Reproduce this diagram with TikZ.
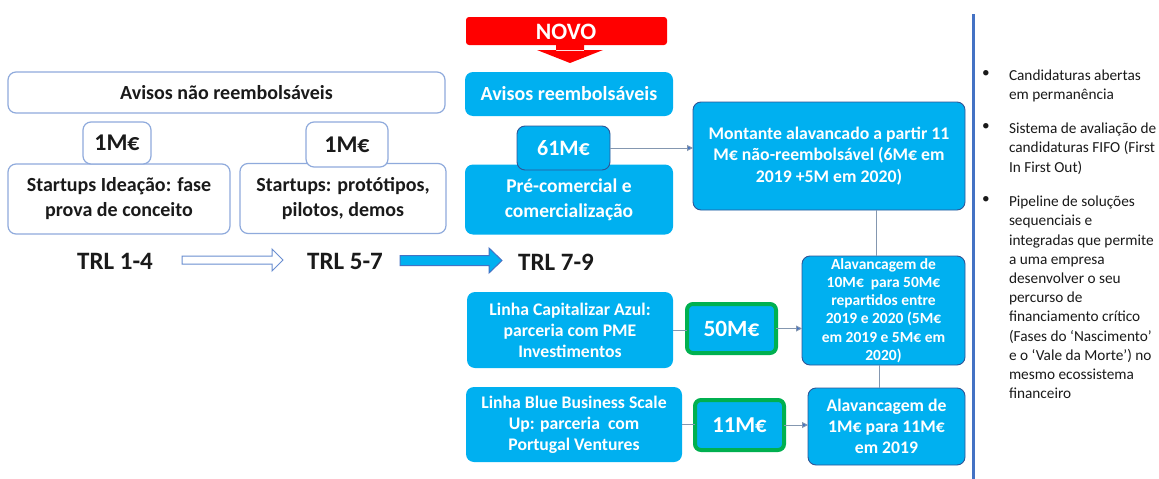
\documentclass[tikz,border=0pt]{standalone}
\usepackage{fontspec}
\setmainfont{Carlito}
\usetikzlibrary{arrows.meta}
\definecolor{cy}{HTML}{00B0F0}
\definecolor{dkb}{HTML}{2F5597}
\definecolor{lb}{HTML}{8FAADC}
\definecolor{grn}{HTML}{00B050}
\definecolor{conc}{HTML}{8497B0}
\definecolor{divc}{HTML}{4472C4}
\definecolor{txt}{HTML}{1A1A1A}
\begin{document}
\begin{tikzpicture}[x=1pt,y=-1pt,
  every node/.style={inner sep=0pt, outer sep=0pt, align=center},
  wbox/.style={draw=lb, line width=1.2pt, fill=white, rounded corners=8pt, text=txt, font=\fontsize{20}{25}\selectfont\bfseries},
  cbox/.style={fill=cy, rounded corners=8pt, text=white, font=\fontsize{17.7}{21}\selectfont\bfseries},
  cboxd/.style={cbox, draw=dkb, line width=0.9pt},
  gbox/.style={fill=cy, draw=grn, line width=4pt, rounded corners=6pt, text=white, font=\fontsize{23.3}{25}\selectfont\bfseries},
  trl/.style={text=txt, font=\fontsize{25}{28}\selectfont\bfseries},
  conn/.style={draw=conc, line width=0.9pt},
  arr/.style={conn, -{Triangle[length=6pt,width=6pt,fill=divc]}},
  btext/.style={anchor=north west, align=left, text=txt, font=\fontsize{15.3}{19.2}\selectfont},
  bul/.style={anchor=north, text=txt, font=\fontsize{15.3}{19.2}\selectfont}
]
\useasboundingbox (0,0) rectangle (1159,479);
\fill[white] (0,0) rectangle (1159,479);

% left column
\node[wbox, minimum width=437, minimum height=41] (anr) at (226.5,92.5) {Avisos não reembolsáveis};
\node[wbox, minimum width=222, minimum height=70] (s1) at (119,199) {Startups Ideação: fase\\prova de conceito};
\node[wbox, minimum width=206, minimum height=70] (s2) at (343,198.5) {Startups: protótipos,\\pilotos, demos};
\node[wbox, minimum width=68, minimum height=42, font=\fontsize{24}{26}\selectfont\bfseries] (m1) at (117,143) {1M€};
\node[wbox, minimum width=82, minimum height=45, font=\fontsize{24}{26}\selectfont\bfseries] (m2) at (347,144.5) {1M€};

\node[trl] (t1) at (115,261) {TRL 1-4};
\node[trl] (t2) at (345,261) {TRL 5-7};
\node[trl] (t3) at (556,262) {TRL 7-9};

% block arrows
\draw[draw=divc!80, line width=1pt, fill=white, line join=miter]
  (182,256) -- (272,256) -- (272,249) -- (283,260) -- (272,271) -- (272,264) -- (182,264) -- cycle;
\draw[draw=divc, line width=1pt, fill=cy, line join=miter]
  (400,255.5) -- (489,255.5) -- (489,248) -- (502,260.5) -- (489,273) -- (489,265.5) -- (400,265.5) -- cycle;

% NOVO
\fill[red, rounded corners=3pt] (466,17) rectangle (667,45);
\fill[red] (556,44) rectangle (584,51) (537,50) -- (603,50) -- (570,63) -- cycle;
\node[text=white, font=\fontsize{23.5}{25}\selectfont\bfseries] (novo) at (566,31.5) {NOVO};

% middle column
\node[cbox, minimum width=208, minimum height=44, font=\fontsize{20}{22}\selectfont\bfseries] (ar) at (569,94) {Avisos reembolsáveis};
\node[cbox, minimum width=208, minimum height=70, font=\fontsize{19.5}{25}\selectfont\bfseries] (pre) at (569,199.5) {Pré-comercial e\\comercialização};
\node[cboxd, minimum width=93, minimum height=44, font=\fontsize{22}{25}\selectfont\bfseries] (m61) at (563.5,148) {61M€};

\node[cbox, minimum width=206, minimum height=76] (lca) at (570,330) {Linha Capitalizar Azul:\\parceria com PME\\Investimentos};
\node[cbox, minimum width=216, minimum height=75] (lbb) at (574,424.5) {Linha Blue Business Scale\\Up: parceria\ \ com\\Portugal Ventures};
\node[gbox, minimum width=89, minimum height=49] (m50) at (731.5,328.5) {50M€};
\node[gbox, minimum width=89, minimum height=50, font=\fontsize{22.7}{25}\selectfont\bfseries] (m11) at (739.5,425) {11M€};

% right column
\node[cboxd, minimum width=272, minimum height=108, font=\fontsize{17.75}{21.7}\selectfont\bfseries] (mont) at (829,156) {Montante alavancado a partir 11\\M€ não-reembolsável (6M€ em\\2019 +5M em 2020)};
\node[cboxd, minimum width=163, minimum height=109, font=\fontsize{15.5}{18.3}\selectfont\bfseries] (al1) at (883.5,310.5) {Alavancagem de\\10M€\ \ para 50M€\\repartidos entre\\2019 e 2020 (5M€\\em 2019 e 5M€ em\\2020)};
\node[cboxd, minimum width=157, minimum height=77] (al2) at (886.5,426.5) {Alavancagem de\\1M€ para 11M€\\em 2019};

% connectors
\draw[arr] (m61.east) -- (m61.east -| mont.west);
\draw[conn] ([xshift=47pt]mont.south) -- ([xshift=-7.5pt]al1.north);
\draw[conn] ([xshift=-4.5pt]al1.south) -- ([xshift=-7.5pt]al2.north);
\draw[conn] (lca.east) -- (lca.east -| m50.west);
\draw[arr] (m50.east) -- (m50.east -| al1.west);
\draw[conn] (lbb.east) -- (lbb.east -| m11.west);
\draw[arr] (m11.east) -- (m11.east -| al2.west);

% divider
\coordinate (dtop) at (973,14);
\coordinate (dbot) at (973,479);
\draw[divc, line width=3pt] (dtop) -- (dbot);

% bullets
\node[btext] (b1) at (1009,70) {Candidaturas abertas\\em permanência};
\node[btext] (b2) at (1009,123) {Sistema de avaliação de\\candidaturas FIFO (First\\In First Out)};
\node[btext] (b3) at (1009,196) {Pipeline de soluções\\sequenciais e\\integradas que permite\\a uma empresa\\desenvolver o seu\\percurso de\\financiamento crítico\\(Fases do ‘Nascimento’\\e o ‘Vale da Morte’) no\\mesmo ecossistema\\financeiro};
\node[bul] (d1) at (986,70) {•};
\node[bul] (d2) at (986,123) {•};
\node[bul] (d3) at (986,196) {•};
\end{tikzpicture}
\end{document}
